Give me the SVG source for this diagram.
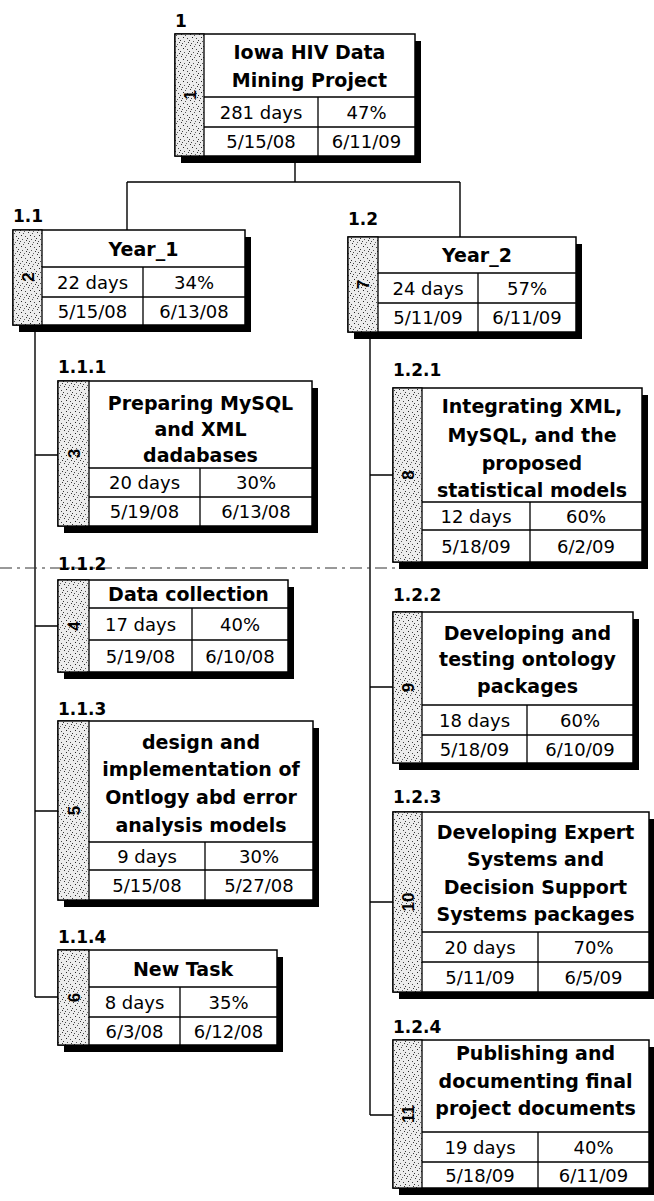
<svg xmlns="http://www.w3.org/2000/svg" width="654" height="1201" viewBox="0 0 654 1201">
<defs>
<pattern id="stip" width="9" height="11" patternUnits="userSpaceOnUse">
<rect width="9" height="11" fill="#ececec"/>
<rect x="1" y="1" width="1" height="1" fill="#333"/>
<rect x="5" y="2" width="1" height="1" fill="#555"/>
<rect x="3" y="4" width="1" height="1" fill="#222"/>
<rect x="7" y="5" width="1" height="1" fill="#444"/>
<rect x="0" y="7" width="1" height="1" fill="#333"/>
<rect x="4" y="8" width="1" height="1" fill="#555"/>
<rect x="8" y="9" width="1" height="1" fill="#333"/>
<rect x="2" y="10" width="1" height="1" fill="#444"/>
<rect x="6" y="0" width="1" height="1" fill="#666"/>
</pattern>
<style>
.sh{fill:#000}
.bx{fill:#fff;stroke:#000;stroke-width:1.5}
.st{fill:url(#stip);stroke:#000;stroke-width:1.3}
.ln{stroke:#000;stroke-width:1.3;fill:none}
.cn{stroke:#000;stroke-width:1.4;fill:none}
.pb{stroke:#333;stroke-width:1;fill:none;stroke-dasharray:12 5 3 5}
.t{font-family:"DejaVu Sans",Verdana,sans-serif;font-weight:bold;font-size:19px;text-anchor:middle;fill:#000}
.r{font-family:"DejaVu Sans",Verdana,sans-serif;font-size:18px;text-anchor:middle;fill:#000}
.lb{font-family:"DejaVu Sans",Verdana,sans-serif;font-weight:bold;font-size:17px;fill:#000}
.id{font-family:"Liberation Sans",Arial,sans-serif;font-weight:bold;font-size:17px;text-anchor:middle;fill:#000}
</style>
</defs>
<rect width="654" height="1201" fill="#fff"/>

<g id="connectors">
<path class="cn" d="M295 156V182M127 182H460M127 182V230M460 182V237"/>
<path class="cn" d="M35 325V997M35 455H58M35 626H58M35 811H58M35 997H58"/>
<path class="cn" d="M370 332V1115M370 475H393M370 687H393M370 902H393M370 1115H393"/>
</g>

<path class="pb" d="M0 568H397"/>

<g id="n1">
<text class="lb" x="175" y="27">1</text>
<rect class="sh" x="181" y="41" width="240" height="122"/>
<rect class="bx" x="175" y="34" width="240" height="122"/>
<rect class="st" x="175" y="34" width="29" height="122"/>
<path class="ln" d="M204 97H415M204 127H415M318 97V156"/>
<text class="id" transform="translate(195.5 95) rotate(-90)">1</text>
<text class="t" x="309.5" y="59">Iowa HIV Data</text>
<text class="t" x="309.5" y="87">Mining Project</text>
<text class="r" x="261" y="118.5">281 days</text>
<text class="r" x="366.5" y="118.5">47%</text>
<text class="r" x="261" y="148">5/15/08</text>
<text class="r" x="366.5" y="148">6/11/09</text>
</g>

<g id="n2">
<text class="lb" x="13" y="222">1.1</text>
<rect class="sh" x="19" y="237" width="232" height="95"/>
<rect class="bx" x="13" y="230" width="232" height="95"/>
<rect class="st" x="13" y="230" width="29" height="95"/>
<path class="ln" d="M42 267H245M42 297H245M143 267V325"/>
<text class="id" transform="translate(33.5 277) rotate(-90)">2</text>
<text class="t" x="143.5" y="255.5">Year_1</text>
<text class="r" x="92.5" y="288.5">22 days</text>
<text class="r" x="194" y="288.5">34%</text>
<text class="r" x="92.5" y="317.5">5/15/08</text>
<text class="r" x="194" y="317.5">6/13/08</text>
</g>

<g id="n7">
<text class="lb" x="348" y="225">1.2</text>
<rect class="sh" x="354" y="244" width="228" height="95"/>
<rect class="bx" x="348" y="237" width="228" height="95"/>
<rect class="st" x="348" y="237" width="30" height="95"/>
<path class="ln" d="M378 273H576M378 303H576M478 273V332"/>
<text class="id" transform="translate(369 284.5) rotate(-90)">7</text>
<text class="t" x="477" y="262">Year_2</text>
<text class="r" x="428" y="294.5">24 days</text>
<text class="r" x="527" y="294.5">57%</text>
<text class="r" x="428" y="324">5/11/09</text>
<text class="r" x="527" y="324">6/11/09</text>
</g>

<g id="n3">
<text class="lb" x="58" y="373">1.1.1</text>
<rect class="sh" x="64" y="388" width="254" height="145"/>
<rect class="bx" x="58" y="381" width="254" height="145"/>
<rect class="st" x="58" y="381" width="31" height="145"/>
<path class="ln" d="M89 468H312M89 497H312M200 468V526"/>
<text class="id" transform="translate(79.5 453.5) rotate(-90)">3</text>
<text class="t" x="200.5" y="410">Preparing MySQL</text>
<text class="t" x="200.5" y="436">and XML</text>
<text class="t" x="200.5" y="462">dadabases</text>
<text class="r" x="144.5" y="489">20 days</text>
<text class="r" x="256" y="489">30%</text>
<text class="r" x="144.5" y="518">5/19/08</text>
<text class="r" x="256" y="518">6/13/08</text>
</g>

<g id="n4">
<text class="lb" x="58" y="570">1.1.2</text>
<rect class="sh" x="64" y="587" width="230" height="92"/>
<rect class="bx" x="58" y="580" width="230" height="92"/>
<rect class="st" x="58" y="580" width="31" height="92"/>
<path class="ln" d="M89 608H288M89 640H288M192 608V672"/>
<text class="id" transform="translate(79.5 626) rotate(-90)">4</text>
<text class="t" x="188.5" y="601">Data collection</text>
<text class="r" x="140.5" y="630.5">17 days</text>
<text class="r" x="240" y="630.5">40%</text>
<text class="r" x="140.5" y="662.5">5/19/08</text>
<text class="r" x="240" y="662.5">6/10/08</text>
</g>

<g id="n5">
<text class="lb" x="58" y="715">1.1.3</text>
<rect class="sh" x="64" y="728" width="255" height="179"/>
<rect class="bx" x="58" y="721" width="255" height="179"/>
<rect class="st" x="58" y="721" width="31" height="179"/>
<path class="ln" d="M89 842H313M89 870H313M205 842V900"/>
<text class="id" transform="translate(79.5 810.5) rotate(-90)">5</text>
<text class="t" x="201" y="749">design and</text>
<text class="t" x="201" y="776">implementation of</text>
<text class="t" x="201" y="804">Ontlogy abd error</text>
<text class="t" x="201" y="832">analysis models</text>
<text class="r" x="147" y="862.5">9 days</text>
<text class="r" x="259" y="862.5">30%</text>
<text class="r" x="147" y="891.5">5/15/08</text>
<text class="r" x="259" y="891.5">5/27/08</text>
</g>

<g id="n6">
<text class="lb" x="58" y="943">1.1.4</text>
<rect class="sh" x="64" y="957" width="219" height="95"/>
<rect class="bx" x="58" y="950" width="219" height="95"/>
<rect class="st" x="58" y="950" width="31" height="95"/>
<path class="ln" d="M89 987H277M89 1017H277M180 987V1045"/>
<text class="id" transform="translate(79.5 997.5) rotate(-90)">6</text>
<text class="t" x="183" y="975.5">New Task</text>
<text class="r" x="134.5" y="1008.5">8 days</text>
<text class="r" x="228.5" y="1008.5">35%</text>
<text class="r" x="134.5" y="1037.5">6/3/08</text>
<text class="r" x="228.5" y="1037.5">6/12/08</text>
</g>

<g id="n8">
<text class="lb" x="393" y="376">1.2.1</text>
<rect class="sh" x="399" y="395" width="249" height="174"/>
<rect class="bx" x="393" y="388" width="249" height="174"/>
<rect class="st" x="393" y="388" width="29" height="174"/>
<path class="ln" d="M422 502H642M422 530H642M530 502V562"/>
<text class="id" transform="translate(413.5 475) rotate(-90)">8</text>
<text class="t" x="532" y="413">Integrating XML,</text>
<text class="t" x="532" y="442">MySQL, and the</text>
<text class="t" x="532" y="470">proposed</text>
<text class="t" x="532" y="497">statistical models</text>
<text class="r" x="476" y="522.5">12 days</text>
<text class="r" x="586" y="522.5">60%</text>
<text class="r" x="476" y="552.5">5/18/09</text>
<text class="r" x="586" y="552.5">6/2/09</text>
</g>

<g id="n9">
<text class="lb" x="393" y="601">1.2.2</text>
<rect class="sh" x="399" y="619" width="240" height="151"/>
<rect class="bx" x="393" y="612" width="240" height="151"/>
<rect class="st" x="393" y="612" width="29" height="151"/>
<path class="ln" d="M422 705H633M422 735H633M527 705V763"/>
<text class="id" transform="translate(413.5 687.5) rotate(-90)">9</text>
<text class="t" x="527.5" y="640">Developing and</text>
<text class="t" x="527.5" y="666">testing ontology</text>
<text class="t" x="527.5" y="693">packages</text>
<text class="r" x="474.5" y="726.5">18 days</text>
<text class="r" x="580" y="726.5">60%</text>
<text class="r" x="474.5" y="755.5">5/18/09</text>
<text class="r" x="580" y="755.5">6/10/09</text>
</g>

<g id="n10">
<text class="lb" x="393" y="803">1.2.3</text>
<rect class="sh" x="399" y="819" width="256" height="180"/>
<rect class="bx" x="393" y="812" width="256" height="180"/>
<rect class="st" x="393" y="812" width="29" height="180"/>
<path class="ln" d="M422 932H649M422 962H649M538 932V992"/>
<text class="id" transform="translate(413.5 902) rotate(-90)">10</text>
<text class="t" x="535.5" y="839">Developing Expert</text>
<text class="t" x="535.5" y="866">Systems and</text>
<text class="t" x="535.5" y="894">Decision Support</text>
<text class="t" x="535.5" y="921">Systems packages</text>
<text class="r" x="480" y="953.5">20 days</text>
<text class="r" x="593.5" y="953.5">70%</text>
<text class="r" x="480" y="983.5">5/11/09</text>
<text class="r" x="593.5" y="983.5">6/5/09</text>
</g>

<g id="n11">
<text class="lb" x="393" y="1033">1.2.4</text>
<rect class="sh" x="399" y="1047" width="256" height="148"/>
<rect class="bx" x="393" y="1040" width="256" height="148"/>
<rect class="st" x="393" y="1040" width="29" height="148"/>
<path class="ln" d="M422 1132H649M422 1162H649M538 1132V1188"/>
<text class="id" transform="translate(413.5 1114) rotate(-90)">11</text>
<text class="t" x="535.5" y="1060">Publishing and</text>
<text class="t" x="535.5" y="1088">documenting final</text>
<text class="t" x="535.5" y="1115">project documents</text>
<text class="r" x="480" y="1153.5">19 days</text>
<text class="r" x="593.5" y="1153.5">40%</text>
<text class="r" x="480" y="1181.5">5/18/09</text>
<text class="r" x="593.5" y="1181.5">6/11/09</text>
</g>
</svg>
